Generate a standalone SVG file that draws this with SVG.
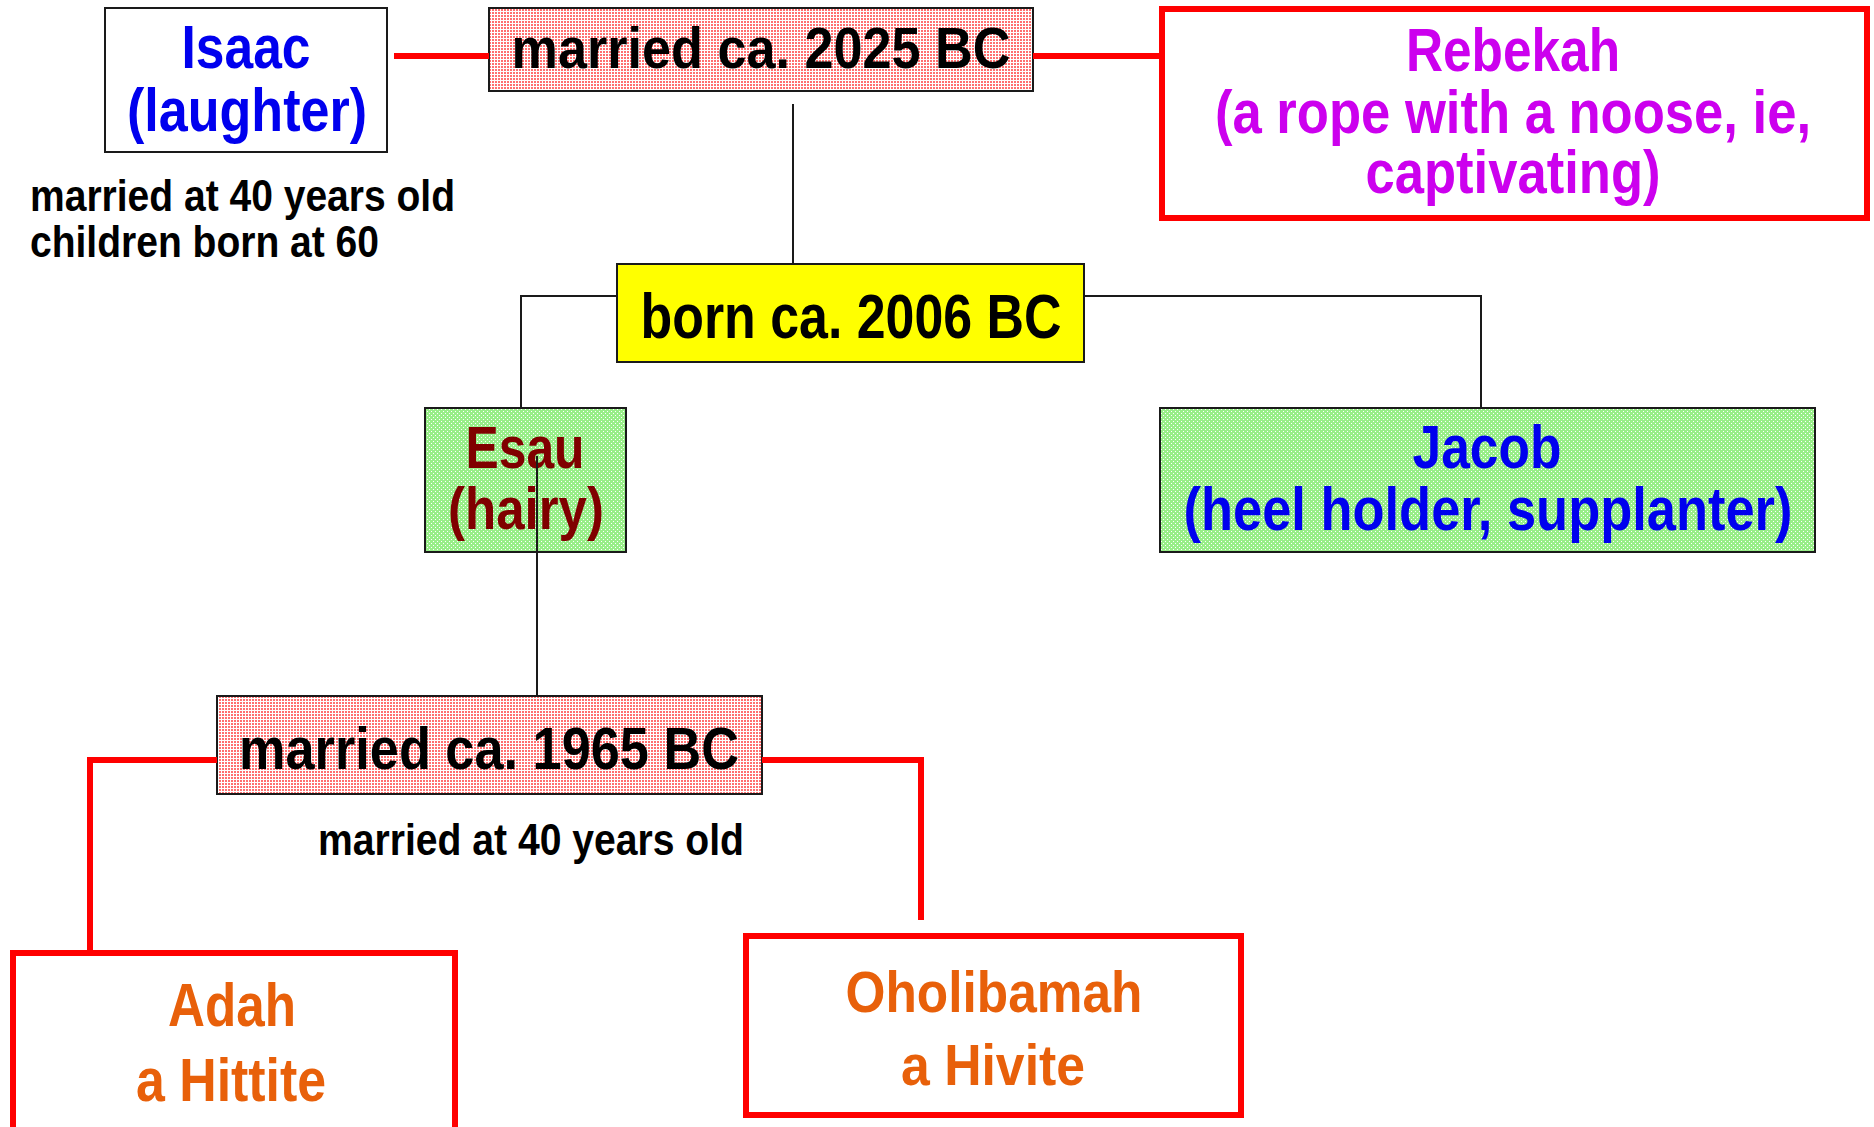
<svg xmlns="http://www.w3.org/2000/svg" width="1874" height="1127" viewBox="0 0 1874 1127">
<style>
text{font-family:"Liberation Sans Narrow","Liberation Sans",Arial,sans-serif;font-weight:bold;text-anchor:middle}
.blk{fill:#000}
.blue{fill:#0000ee}
.mag{fill:#cc00ee}
.brn{fill:#800000}
.org{fill:#e8600a}
.note{font-size:44px;text-anchor:start}
.bx{stroke:#1a1a1a;stroke-width:2}
.rbx{fill:#fff;stroke:#ff0000;stroke-width:6}
.rc{fill:none;stroke:#ff0000;stroke-width:6}
.kc{fill:none;stroke:#1a1a1a;stroke-width:2}
</style>
<defs>
<pattern id="pink" width="3" height="3" patternUnits="userSpaceOnUse">
<rect width="3" height="3" fill="#fff"/>
<rect width="2" height="2" fill="#ff7070"/>
</pattern>
<pattern id="green" width="4" height="4" patternUnits="userSpaceOnUse">
<rect width="4" height="4" fill="#98ee88"/>
<rect x="1" y="1" width="1" height="1" fill="#fff"/>
<rect x="3" y="3" width="1" height="1" fill="#fff"/>
</pattern>
</defs>
<rect width="1874" height="1127" fill="#fff"/>
<g id="isaac">
<rect class="bx" x="105" y="8" width="282" height="144" fill="#fff"/>
<text class="blue" x="246" y="68" font-size="62" textLength="129" lengthAdjust="spacingAndGlyphs">Isaac</text>
<text class="blue" x="247" y="131" font-size="62" textLength="240" lengthAdjust="spacingAndGlyphs">(laughter)</text>
</g>
<g id="married2025">
<rect class="bx" x="489" y="8" width="544" height="83" fill="url(#pink)"/>
<text class="blk" x="761" y="68" font-size="58" textLength="499" lengthAdjust="spacingAndGlyphs">married ca. 2025 BC</text>
</g>
<g id="rebekah">
<rect class="rbx" x="1162" y="9" width="705" height="209"/>
<text class="mag" x="1513" y="71" font-size="61" textLength="214" lengthAdjust="spacingAndGlyphs">Rebekah</text>
<text class="mag" x="1513" y="133" font-size="61" textLength="596" lengthAdjust="spacingAndGlyphs">(a rope with a noose, ie,</text>
<text class="mag" x="1513" y="193" font-size="61" textLength="295" lengthAdjust="spacingAndGlyphs">captivating)</text>
</g>
<g id="isaac-note">
<text class="blk note" x="30" y="211" textLength="425" lengthAdjust="spacingAndGlyphs">married at 40 years old</text>
<text class="blk note" x="30" y="257" textLength="349" lengthAdjust="spacingAndGlyphs">children born at 60</text>
</g>
<g id="born2006">
<rect class="bx" x="617" y="264" width="467" height="98" fill="#ffff00"/>
<text class="blk" x="851" y="338" font-size="63" textLength="421" lengthAdjust="spacingAndGlyphs">born ca. 2006 BC</text>
</g>
<g id="esau">
<rect class="bx" x="425" y="408" width="201" height="144" fill="url(#green)"/>
<text class="brn" x="525" y="468" font-size="60" textLength="119" lengthAdjust="spacingAndGlyphs">Esau</text>
<text class="brn" x="526" y="529" font-size="60" textLength="156" lengthAdjust="spacingAndGlyphs">(hairy)</text>
</g>
<g id="jacob">
<rect class="bx" x="1160" y="408" width="655" height="144" fill="url(#green)"/>
<text class="blue" x="1487" y="468" font-size="62" textLength="149" lengthAdjust="spacingAndGlyphs">Jacob</text>
<text class="blue" x="1488" y="530" font-size="62" textLength="609" lengthAdjust="spacingAndGlyphs">(heel holder, supplanter)</text>
</g>
<g id="married1965">
<rect class="bx" x="217" y="696" width="545" height="98" fill="url(#pink)"/>
<text class="blk" x="489" y="769" font-size="60" textLength="500" lengthAdjust="spacingAndGlyphs">married ca. 1965 BC</text>
</g>
<g id="esau-note">
<text class="blk note" x="318" y="855" textLength="426" lengthAdjust="spacingAndGlyphs">married at 40 years old</text>
</g>
<g id="adah">
<rect class="rbx" x="13" y="953" width="442" height="200"/>
<text class="org" x="232" y="1026" font-size="61" textLength="128" lengthAdjust="spacingAndGlyphs">Adah</text>
<text class="org" x="231" y="1101" font-size="61" textLength="190" lengthAdjust="spacingAndGlyphs">a Hittite</text>
</g>
<g id="oholibamah">
<rect class="rbx" x="746" y="936" width="495" height="179"/>
<text class="org" x="994" y="1012" font-size="58" textLength="297" lengthAdjust="spacingAndGlyphs">Oholibamah</text>
<text class="org" x="993" y="1085" font-size="58" textLength="184" lengthAdjust="spacingAndGlyphs">a Hivite</text>
</g>
<g id="connectors">
<line class="rc" x1="394" y1="56" x2="489" y2="56"/>
<line class="rc" x1="1033" y1="56" x2="1160" y2="56"/>
<line class="kc" x1="793" y1="104" x2="793" y2="264"/>
<polyline class="kc" points="617,296 521,296 521,408"/>
<polyline class="kc" points="1084,296 1481,296 1481,408"/>
<line class="kc" x1="537" y1="456" x2="537" y2="696"/>
<polyline class="rc" points="217,760 90,760 90,951"/>
<polyline class="rc" points="762,760 921,760 921,920"/>
</g>
</svg>
